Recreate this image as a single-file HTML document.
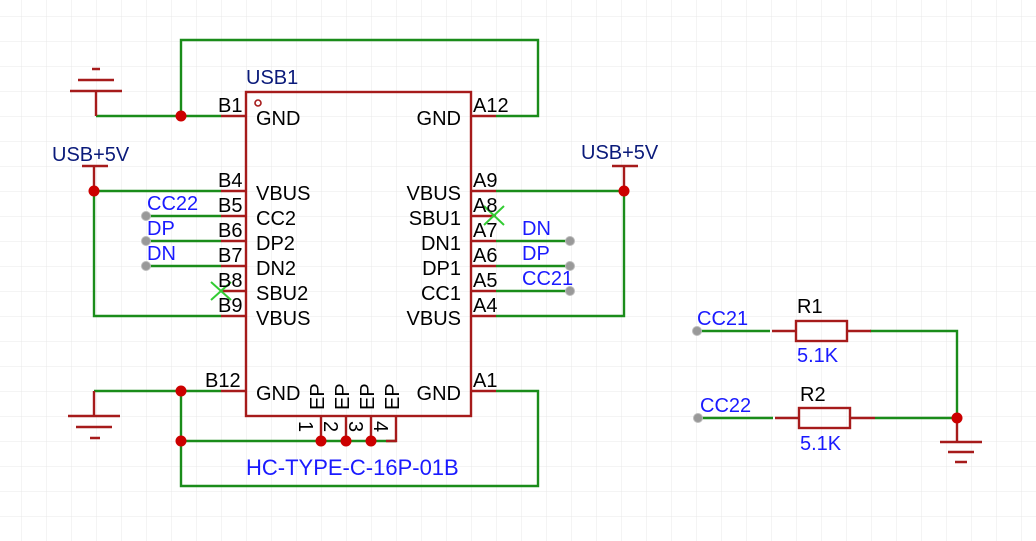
<!DOCTYPE html>
<html><head><meta charset="utf-8"><style>
html,body{margin:0;padding:0;background:#fff}
svg{display:block}
text{font-family:"Liberation Sans",Arial,sans-serif;font-size:20px}
</style></head><body>
<svg width="1036" height="541" viewBox="0 0 1036 541" xmlns="http://www.w3.org/2000/svg">
<defs>
<pattern id="g" x="21" y="16" width="25" height="25" patternUnits="userSpaceOnUse">
<path d="M0 0H25M0 0V25" stroke="#e8e8e8" stroke-width="1" fill="none"/>
</pattern>
</defs>
<rect width="1036" height="541" fill="url(#g)"/>

<g stroke="#1a8c1a" stroke-width="2.4" fill="none">
<path d="M96 116H221"/>
<path d="M181 116V40H538V116H496"/>
<path d="M94 191H221M94 191V316H221"/>
<path d="M146 216H221M146 241H221M146 266H221"/>
<path d="M94 391H221"/>
<path d="M181 391V486H538V391H496"/>
<path d="M181 441H396"/>
<path d="M496 191H624V316H496"/>
<path d="M496 241H570M496 266H570M496 291H570"/>
<path d="M697 331H770M870 331H957V418H875M697 418H773"/>
</g>

<g stroke="#a61b1b" stroke-width="2.4" fill="none">
<rect x="246" y="92" width="225" height="324"/>
<path d="M221 116H246M221 191H246M221 216H246M221 241H246M221 266H246M221 291H246M221 316H246M221 391H246"/>
<path d="M471 116H496M471 191H496M471 216H496M471 241H496M471 266H496M471 291H496M471 316H496M471 391H496"/>
<path d="M321 416V441M346 416V441M371 416V441M396 416V441H386"/>
<path d="M96 116V91M70 91H122M78 80H114M92 69H100"/>
<path d="M94 391V416M68 416H120M76 427H112M90 438H100"/>
<path d="M94 191V166M82 166H108"/>
<path d="M624 191V166M612 166H638"/>
<rect x="796" y="321" width="51" height="20"/>
<path d="M772 331H796M847 331H871"/>
<rect x="799" y="408" width="51" height="20"/>
<path d="M775 418H799M850 418H875"/>
<path d="M957 418V442M940 442H982M948 452H974M955 462H967"/>
</g>
<circle cx="258" cy="103" r="3" fill="none" stroke="#a61b1b" stroke-width="1.6"/>

<g fill="#cc0000">
<circle cx="181" cy="116" r="5.5"/><circle cx="94" cy="191" r="5.5"/>
<circle cx="181" cy="391" r="5.5"/><circle cx="181" cy="441" r="5.5"/>
<circle cx="321" cy="441" r="5.5"/><circle cx="346" cy="441" r="5.5"/><circle cx="371" cy="441" r="5.5"/>
<circle cx="624" cy="191" r="5.5"/><circle cx="957" cy="418" r="5.5"/>
</g>
<g fill="#999" stroke="#bbb" stroke-width="1">
<circle cx="146" cy="216" r="4.5"/><circle cx="146" cy="241" r="4.5"/><circle cx="146" cy="266" r="4.5"/>
<circle cx="570" cy="241" r="4.5"/><circle cx="570" cy="266" r="4.5"/><circle cx="570" cy="291" r="4.5"/>
<circle cx="697" cy="331" r="4.5"/><circle cx="698" cy="418" r="4.5"/>
</g>
<g stroke="#33cc33" stroke-width="2">
<path d="M211 282L231 300M231 282L211 300"/>
<path d="M484 206L504 225M504 206L484 225"/>
</g>

<g fill="#000">
<text x="218" y="112">B1</text><text x="218" y="187">B4</text><text x="218" y="212">B5</text>
<text x="218" y="237">B6</text><text x="218" y="262">B7</text><text x="218" y="287">B8</text>
<text x="218" y="312">B9</text><text x="205" y="387">B12</text>
<text x="473" y="112">A12</text><text x="473" y="187">A9</text><text x="473" y="212">A8</text>
<text x="473" y="237">A7</text><text x="473" y="262">A6</text><text x="473" y="287">A5</text>
<text x="473" y="312">A4</text><text x="473" y="387">A1</text>
<text x="256" y="125">GND</text><text x="256" y="200">VBUS</text><text x="256" y="225">CC2</text>
<text x="256" y="250">DP2</text><text x="256" y="275">DN2</text><text x="256" y="300">SBU2</text>
<text x="256" y="325">VBUS</text><text x="256" y="400">GND</text>
<g text-anchor="end">
<text x="461" y="125">GND</text><text x="461" y="200">VBUS</text><text x="461" y="225">SBU1</text>
<text x="461" y="250">DN1</text><text x="461" y="275">DP1</text><text x="461" y="300">CC1</text>
<text x="461" y="325">VBUS</text><text x="461" y="400">GND</text>
</g>
<text transform="translate(324,410) rotate(-90)">EP</text>
<text transform="translate(349,410) rotate(-90)">EP</text>
<text transform="translate(374,410) rotate(-90)">EP</text>
<text transform="translate(399,410) rotate(-90)">EP</text>
<text transform="translate(299,421) rotate(90)">1</text>
<text transform="translate(324,421) rotate(90)">2</text>
<text transform="translate(349,421) rotate(90)">3</text>
<text transform="translate(374,421) rotate(90)">4</text>
<text x="797" y="313">R1</text><text x="800" y="401">R2</text>
</g>
<g fill="#0a1a7a">
<text x="246" y="84">USB1</text>
<text x="52" y="161">USB+5V</text>
<text x="581" y="159">USB+5V</text>
</g>
<g fill="#1a1aff">
<text x="147" y="210">CC22</text><text x="147" y="235">DP</text><text x="147" y="260">DN</text>
<text x="522" y="235">DN</text><text x="522" y="260">DP</text><text x="522" y="285">CC21</text>
<text x="697" y="325">CC21</text><text x="700" y="412">CC22</text>
<text x="797" y="362">5.1K</text><text x="800" y="450">5.1K</text>
<text x="246" y="475" style="font-size:22px">HC-TYPE-C-16P-01B</text>
</g>
</svg>
</body></html>
